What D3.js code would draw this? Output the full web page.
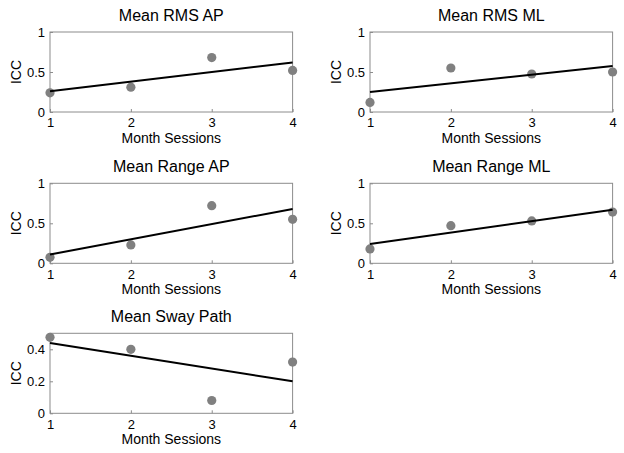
<!DOCTYPE html>
<html>
<head>
<meta charset="utf-8">
<script src="https://cdn.jsdelivr.net/npm/d3@7"></script>
<style>
  html, body { margin: 0; padding: 0; background: #fff; }
  svg { display: block; }
  text { font-family: "Liberation Sans", Arial, Helvetica, sans-serif; fill: #000; }
</style>
</head>
<body>
<svg id="chart" width="624" height="453"></svg>
<script>
// ---- Data ----
const sessions = [1, 2, 3, 4];
const titles = ["Mean RMS AP", "Mean RMS ML", "Mean Range AP", "Mean Range ML", "Mean Sway Path"];
const rmsAP = [0.24, 0.31, 0.68, 0.52];
const rmsML = [0.12, 0.55, 0.475, 0.50];
const rangeAP = [0.075, 0.23, 0.72, 0.55];
const rangeML = [0.18, 0.47, 0.53, 0.64];
const swayPath = [0.475, 0.40, 0.08, 0.32];
// fitted trend line values at session 1 and session 4
const fitRmsAP = [0.26, 0.62];
const fitRmsML = [0.25, 0.575];
const fitRangeAP = [0.11, 0.68];
const fitRangeML = [0.24, 0.67];
const fitSwayPath = [0.44, 0.20];
const yMaxes = [1, 1, 1, 1, 0.5];
const yTicksFull = [0, 0.5, 1];
const yTicksSway = [0, 0.2, 0.4];
const xTicks = [1, 2, 3, 4];
const xLabel = "Month Sessions";
const yLabel = "ICC";

const seriesList = [rmsAP, rmsML, rangeAP, rangeML, swayPath];
const fitList = [fitRmsAP, fitRmsML, fitRangeAP, fitRangeML, fitSwayPath];
const yTickList = [yTicksFull, yTicksFull, yTicksFull, yTicksFull, yTicksSway];

// ---- Layout ----
const colX = [50, 370];
const rowY = [32, 183.3, 333.3];
const pw = 242.6, ph = 80;

const svg = d3.select("#chart");

seriesList.forEach((vals, i) => {
  const col = i % 2, row = Math.floor(i / 2);
  const g = svg.append("g").attr("transform", `translate(${colX[col]},${rowY[row]})`);
  const x = d3.scaleLinear().domain([1, 4]).range([0, pw]);
  const y = d3.scaleLinear().domain([0, yMaxes[i]]).range([ph, 0]);

  // box
  g.append("rect").attr("x", 0).attr("y", 0).attr("width", pw).attr("height", ph)
    .attr("fill", "none").attr("stroke", "#8c8c8c").attr("stroke-width", 1);

  // x axis (ticks inward)
  const xa = g.append("g").attr("transform", `translate(0,${ph})`)
    .call(d3.axisBottom(x).tickValues(xTicks).tickFormat(d3.format("d")).tickSizeInner(-3).tickSizeOuter(0).tickPadding(6));
  xa.select(".domain").remove();
  xa.selectAll("line").attr("stroke", "#8c8c8c");
  xa.selectAll("text").attr("font-size", "13px").attr("fill", "#000");

  // y axis
  const ya = g.append("g")
    .call(d3.axisLeft(y).tickValues(yTickList[i]).tickFormat(d => d === 0 ? "0" : (d === 1 ? "1" : d3.format(".1f")(d))).tickSizeInner(-3).tickSizeOuter(0).tickPadding(5));
  ya.select(".domain").remove();
  ya.selectAll("line").attr("stroke", "#8c8c8c");
  ya.selectAll("text").attr("font-size", "13px").attr("fill", "#000");

  // points
  g.selectAll("circle.pt").data(sessions.map((s, k) => [s, vals[k]])).enter()
    .append("circle").attr("class", "pt")
    .attr("cx", d => x(d[0])).attr("cy", d => y(d[1])).attr("r", 4.6)
    .attr("fill", "#808080");

  // trend line
  const fit = fitList[i];
  g.append("path")
    .datum([[1, fit[0]], [4, fit[1]]])
    .attr("d", d3.line().x(d => x(d[0])).y(d => y(d[1])))
    .attr("stroke", "#000").attr("stroke-width", 2).attr("fill", "none");

  // title
  g.append("text").attr("x", pw / 2).attr("y", -11).attr("text-anchor", "middle")
    .attr("font-size", "16px").text(titles[i]);

  // x label
  g.append("text").attr("x", pw / 2).attr("y", ph + 31).attr("text-anchor", "middle")
    .attr("font-size", "14px").text(xLabel);

  // y label
  g.append("text").attr("transform", `translate(-29.5,${ph / 2}) rotate(-90)`)
    .attr("text-anchor", "middle").attr("font-size", "14px").text(yLabel);
});
</script>
</body>
</html>
